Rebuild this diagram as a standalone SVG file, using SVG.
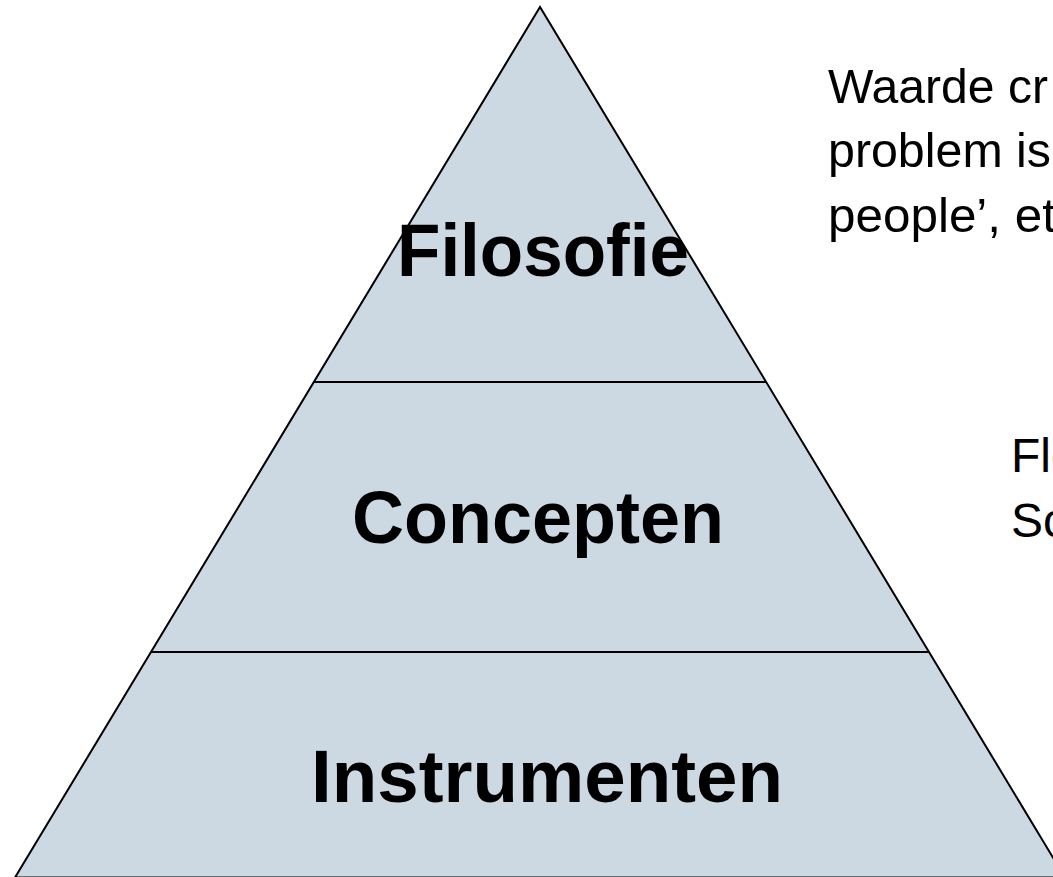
<svg xmlns="http://www.w3.org/2000/svg" width="1053" height="877" viewBox="0 0 1053 877">
  <style>
    .tier { fill: #CDD9E2; stroke: none; }
    .edge { fill: none; stroke: #000; stroke-width: 2; stroke-linejoin: miter; }
    .label { font-family: "Liberation Sans", Arial, sans-serif; font-weight: bold; font-size: 74px; fill: #000; text-anchor: middle; }
    .note { font-family: "Liberation Sans", Arial, sans-serif; font-size: 48px; fill: #000; }
  </style>
  <rect width="1053" height="877" fill="#fff"/>
  <g id="pyramid">
    <polygon class="tier" points="540,7 15,877.5 1065,877.5"/>
  </g>
  <g id="connectors">
    <line class="edge" x1="314" y1="382" x2="766" y2="382"/>
    <line class="edge" x1="151" y1="652" x2="929" y2="652"/>
    <polygon class="edge" points="540,7 15,877.5 1065,877.5"/>
  </g>
  <g id="filosofie">
    <text class="label" x="543" y="276" textLength="292" lengthAdjust="spacingAndGlyphs">Filosofie</text>
  </g>
  <g id="concepten">
    <text class="label" x="538" y="543" textLength="372" lengthAdjust="spacingAndGlyphs">Concepten</text>
  </g>
  <g id="instrumenten">
    <text class="label" x="547" y="802" textLength="472" lengthAdjust="spacingAndGlyphs">Instrumenten</text>
  </g>
  <g id="note-filosofie">
    <text class="note" x="828" y="103" textLength="220" lengthAdjust="spacingAndGlyphs">Waarde cr</text>
    <text class="note" x="828" y="167" textLength="223" lengthAdjust="spacingAndGlyphs">problem is</text>
    <text class="note" x="828" y="232" textLength="228" lengthAdjust="spacingAndGlyphs">people’, et</text>
  </g>
  <g id="note-concepten">
    <text class="note" x="1011" y="472">Fle</text>
    <text class="note" x="1011" y="537">Sc</text>
  </g>
</svg>
